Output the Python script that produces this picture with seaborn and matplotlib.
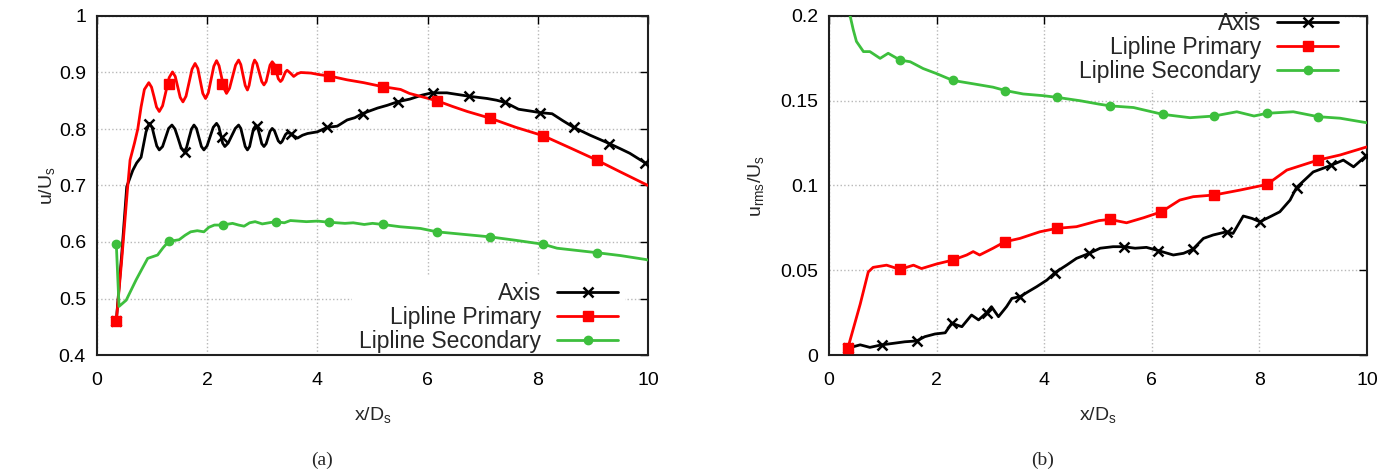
import numpy as np
import seaborn as sns
import matplotlib
matplotlib.use("Agg")
import matplotlib.pyplot as plt
from matplotlib.lines import Line2D
from matplotlib.ticker import FormatStrFormatter, MultipleLocator

# ---------------- panel (a): mean velocity ----------------
a_axis_x = [0.35, 0.45, 0.54, 0.65, 0.72, 0.80, 0.85, 0.89, 0.95,
            1.00, 1.04, 1.085, 1.13, 1.19, 1.245, 1.30, 1.36, 1.415, 1.47, 1.525, 1.58,
            1.625, 1.67, 1.715, 1.76, 1.805, 1.85, 1.895, 1.94, 1.997, 2.055, 2.11, 2.17,
            2.21, 2.245, 2.28, 2.32, 2.38, 2.445, 2.51, 2.57, 2.61, 2.65, 2.69, 2.73,
            2.77, 2.805, 2.84, 2.88, 2.92, 2.955, 2.99, 3.03, 3.07, 3.105, 3.14, 3.18,
            3.22, 3.255, 3.29, 3.33, 3.36, 3.39, 3.42, 3.45, 3.50, 3.57, 3.64, 3.73,
            3.82, 4.00, 4.18, 4.36, 4.54, 4.68, 4.81, 5.09, 5.27, 5.45, 5.68, 5.90,
            6.08, 6.35, 6.55, 6.75, 7.08, 7.25, 7.41, 7.65, 7.85, 8.04, 8.26, 8.45,
            8.65, 8.95, 9.28, 9.50, 9.67, 9.85, 10.0]
a_axis_y = [0.46, 0.58, 0.698, 0.727, 0.740, 0.750, 0.775, 0.795, 0.810,
            0.803, 0.787, 0.770, 0.763, 0.769, 0.785, 0.801, 0.807, 0.800, 0.784, 0.767, 0.760,
            0.767, 0.784, 0.800, 0.807, 0.801, 0.785, 0.769, 0.763, 0.770, 0.787, 0.803, 0.810,
            0.804, 0.790, 0.775, 0.769, 0.775, 0.788, 0.801, 0.807, 0.801, 0.785, 0.769, 0.763,
            0.769, 0.785, 0.800, 0.806, 0.801, 0.788, 0.774, 0.769, 0.774, 0.785, 0.796, 0.801,
            0.797, 0.788, 0.779, 0.775, 0.778, 0.784, 0.790, 0.793, 0.793, 0.788, 0.784, 0.789,
            0.792, 0.795, 0.803, 0.805, 0.816, 0.820, 0.827, 0.837, 0.842, 0.848, 0.853, 0.860,
            0.864, 0.864, 0.861, 0.858, 0.854, 0.851, 0.847, 0.835, 0.832, 0.829, 0.827, 0.815,
            0.803, 0.789, 0.775, 0.765, 0.757, 0.746, 0.737]

a_prim_x = [0.35, 0.45, 0.55, 0.60, 0.68, 0.74, 0.80, 0.86, 0.94,
            0.99, 1.035, 1.08, 1.13, 1.19, 1.25, 1.31, 1.37, 1.42, 1.465, 1.51, 1.56,
            1.615, 1.67, 1.725, 1.78, 1.83, 1.875, 1.92, 1.97, 2.02, 2.07, 2.12, 2.17,
            2.215, 2.26, 2.305, 2.35, 2.405, 2.46, 2.515, 2.57, 2.61, 2.65, 2.69, 2.73,
            2.76, 2.795, 2.83, 2.86, 2.90, 2.945, 2.99, 3.03, 3.07, 3.105, 3.14, 3.18,
            3.22, 3.255, 3.29, 3.33, 3.36, 3.39, 3.42, 3.45, 3.51, 3.57, 3.64, 3.70,
            3.88, 4.05, 4.21, 4.54, 4.84, 5.18, 5.38, 5.51, 5.67, 5.90, 6.17, 6.45,
            6.72, 7.14, 7.60, 8.10, 8.60, 9.07, 9.50, 10.0]
a_prim_y = [0.46, 0.57, 0.69, 0.745, 0.775, 0.800, 0.839, 0.870, 0.882,
            0.874, 0.857, 0.839, 0.831, 0.841, 0.866, 0.891, 0.901, 0.893, 0.8745, 0.856, 0.848,
            0.858, 0.882, 0.906, 0.916, 0.907, 0.885, 0.863, 0.854, 0.864, 0.8875, 0.911, 0.921,
            0.912, 0.892, 0.872, 0.863, 0.872, 0.8925, 0.913, 0.922, 0.914, 0.8955, 0.877, 0.869,
            0.877, 0.8955, 0.914, 0.922, 0.916, 0.900, 0.884, 0.878, 0.884, 0.8985, 0.913, 0.919,
            0.914, 0.9015, 0.889, 0.884, 0.887, 0.894, 0.901, 0.904, 0.899, 0.893, 0.898, 0.900,
            0.899, 0.896, 0.894, 0.887, 0.882, 0.875, 0.872, 0.870, 0.863, 0.857, 0.850, 0.840,
            0.831, 0.819, 0.803, 0.788, 0.766, 0.745, 0.724, 0.700]

a_sec_x = [0.35, 0.40, 0.53, 0.62, 0.71, 0.82, 0.92, 1.10, 1.20, 1.30, 1.49, 1.60,
           1.70, 1.82, 1.94, 2.03, 2.13, 2.28, 2.46, 2.57, 2.67, 2.77, 2.87, 3.00,
           3.24, 3.40, 3.51, 3.80, 4.00, 4.21, 4.50, 4.65, 4.85, 5.00, 5.19, 5.50,
           5.87, 6.17, 6.60, 7.14, 7.60, 8.10, 8.35, 9.08, 9.50, 9.96, 10.0]
a_sec_y = [0.597, 0.486, 0.497, 0.515, 0.533, 0.553, 0.571, 0.577, 0.590, 0.601, 0.604, 0.612,
           0.618, 0.620, 0.618, 0.626, 0.630, 0.630, 0.633, 0.630, 0.628, 0.634, 0.636, 0.632,
           0.636, 0.634, 0.638, 0.636, 0.637, 0.635, 0.633, 0.634, 0.631, 0.633, 0.631, 0.627,
           0.624, 0.618, 0.614, 0.609, 0.603, 0.596, 0.589, 0.581, 0.576, 0.569, 0.568]

# marker positions (a)
a_axis_mx = [0.35, 0.95, 1.60, 2.27, 2.90, 3.52, 4.18, 4.82, 5.47, 6.10, 6.75, 7.40, 8.04, 8.66, 9.30, 9.95]
a_axis_my = [0.46, 0.808, 0.760, 0.785, 0.805, 0.792, 0.803, 0.827, 0.847, 0.864, 0.858, 0.847, 0.829, 0.803, 0.774, 0.740]
a_prim_mx = [0.35, 1.30, 2.27, 3.24, 4.21, 5.19, 6.17, 7.14, 8.10, 9.08]
a_prim_my = [0.46, 0.880, 0.880, 0.906, 0.893, 0.875, 0.850, 0.819, 0.788, 0.745]
a_sec_mx = [0.35, 1.30, 2.28, 3.24, 4.21, 5.19, 6.17, 7.14, 8.10, 9.08]
a_sec_my = [0.597, 0.601, 0.630, 0.636, 0.635, 0.631, 0.618, 0.609, 0.596, 0.581]

# ---------------- panel (b): rms velocity ----------------
b_axis_x = [0.35, 0.58, 0.76, 0.98, 1.20, 1.41, 1.63, 1.78, 1.97, 2.16, 2.28, 2.47, 2.65,
            2.78, 2.93, 3.02, 3.15, 3.30, 3.40, 3.55, 3.70, 3.86, 4.05, 4.20, 4.42, 4.60,
            4.84, 5.04, 5.28, 5.48, 5.69, 5.90, 6.12, 6.40, 6.59, 6.76, 6.96, 7.14, 7.39,
            7.51, 7.70, 7.86, 8.01, 8.20, 8.38, 8.57, 8.69, 9.00, 9.34, 9.56, 9.75, 9.98, 10.0]
b_axis_y = [0.004, 0.006, 0.0045, 0.006, 0.0069, 0.0078, 0.0083, 0.0108, 0.0124, 0.0131, 0.0187, 0.0167, 0.0236,
            0.0207, 0.025, 0.0285, 0.0226, 0.0285, 0.0334, 0.0344, 0.0373, 0.0403, 0.0442, 0.0486, 0.0531, 0.057,
            0.0600, 0.063, 0.0639, 0.0639, 0.063, 0.0635, 0.0616, 0.059, 0.060, 0.0623, 0.0688, 0.0708, 0.0727,
            0.0717, 0.082, 0.0806, 0.0786, 0.0816, 0.0845, 0.0914, 0.0988, 0.108, 0.112, 0.115, 0.111, 0.1174, 0.118]

b_prim_x = [0.35, 0.58, 0.73, 0.82, 1.07, 1.32, 1.57, 1.72, 2.00, 2.30, 2.56, 2.68, 2.80,
            3.05, 3.27, 3.55, 3.92, 4.23, 4.60, 5.02, 5.22, 5.53, 5.85, 6.18, 6.52, 6.77,
            7.16, 7.64, 8.14, 8.51, 9.09, 9.50, 10.0]
b_prim_y = [0.004, 0.030, 0.049, 0.0517, 0.053, 0.0505, 0.053, 0.051, 0.0537, 0.056, 0.059, 0.061, 0.059,
            0.063, 0.0668, 0.0688, 0.0727, 0.0747, 0.0757, 0.0793, 0.080, 0.078, 0.081, 0.0845, 0.0914, 0.0934,
            0.0944, 0.0973, 0.1006, 0.1091, 0.115, 0.118, 0.1228]

b_sec_x = [0.35, 0.45, 0.51, 0.64, 0.76, 0.95, 1.10, 1.32, 1.51, 1.75, 2.00, 2.30, 2.68,
           3.05, 3.28, 3.61, 3.98, 4.24, 4.67, 5.02, 5.22, 5.66, 6.20, 6.71, 7.16, 7.58,
           7.90, 8.14, 8.63, 9.09, 9.50, 10.0]
b_sec_y = [0.206, 0.192, 0.185, 0.179, 0.179, 0.175, 0.178, 0.174, 0.173, 0.169, 0.166, 0.162, 0.160,
           0.158, 0.156, 0.154, 0.153, 0.152, 0.150, 0.148, 0.147, 0.146, 0.142, 0.140, 0.141, 0.1435,
           0.141, 0.1426, 0.1435, 0.1406, 0.1397, 0.137]

b_axis_mx = [0.35, 0.98, 1.63, 2.28, 2.93, 3.55, 4.20, 4.84, 5.48, 6.12, 6.76, 7.39, 8.01, 8.69, 9.34, 9.98]
b_axis_my = [0.004, 0.006, 0.0083, 0.0187, 0.025, 0.0344, 0.0486, 0.0600, 0.0639, 0.0616, 0.0623, 0.0727, 0.0786, 0.0988, 0.112, 0.1174]
b_prim_mx = [0.35, 1.32, 2.30, 3.27, 4.23, 5.22, 6.18, 7.16, 8.14, 9.09]
b_prim_my = [0.004, 0.0505, 0.056, 0.0668, 0.0747, 0.080, 0.0845, 0.0944, 0.1006, 0.115]
b_sec_mx = [1.32, 2.30, 3.28, 4.24, 5.22, 6.20, 7.16, 8.14, 9.09]
b_sec_my = [0.174, 0.162, 0.156, 0.152, 0.147, 0.142, 0.141, 0.1426, 0.1406]

labels = ["Axis", "Lipline Primary", "Lipline Secondary"]
colors = ["black", "#ff0000", "#3dbf3d"]
markers = ["x", "s", "o"]
msizes = [7.5, 6.5, 6]
mews = [1.8, 1, 1]

sns.set_theme(style="white")
plt.rcParams['font.family'] = ['Liberation Sans', 'DejaVu Sans']
plt.rcParams['mathtext.default'] = 'regular'

fig = plt.figure(figsize=(13.83, 4.74), dpi=100)
ax_a = fig.add_axes([97 / 1383, 119 / 474, 551 / 1383, 339 / 474])
ax_b = fig.add_axes([829 / 1383, 119 / 474, 538 / 1383, 339 / 474])


def draw_panel(ax, curves, marks):
    for (cx, cy), (mx, my), c, m, ms, mw in zip(curves, marks, colors, markers, msizes, mews):
        sns.lineplot(x=cx, y=cy, ax=ax, color=c, lw=2, sort=False, estimator=None, zorder=3)
        ax.plot(mx, my, ls='none', marker=m, color=c, ms=ms, mew=mw, zorder=4)


draw_panel(ax_a,
           [(a_axis_x, a_axis_y), (a_prim_x, a_prim_y), (a_sec_x, a_sec_y)],
           [(a_axis_mx, a_axis_my), (a_prim_mx, a_prim_my), (a_sec_mx, a_sec_my)])
draw_panel(ax_b,
           [(b_axis_x, b_axis_y), (b_prim_x, b_prim_y), (b_sec_x, b_sec_y)],
           [(b_axis_mx, b_axis_my), (b_prim_mx, b_prim_my), (b_sec_mx, b_sec_my)])

ax_a.set_xlim(0, 10)
ax_a.set_ylim(0.4, 1.0)
ax_a.yaxis.set_major_locator(MultipleLocator(0.1))
ax_b.set_xlim(0, 10)
ax_b.set_ylim(0, 0.2)
ax_b.yaxis.set_major_locator(MultipleLocator(0.05))

handles = [Line2D([], [], color=c, lw=2, marker=m, ms=ms, mew=mw)
           for c, m, ms, mw in zip(colors, markers, msizes, mews)]

for ax in (ax_a, ax_b):
    ax.xaxis.set_major_locator(MultipleLocator(2))
    ax.xaxis.set_major_formatter(FormatStrFormatter('%g'))
    ax.yaxis.set_major_formatter(FormatStrFormatter('%g'))
    ax.tick_params(direction='in', top=True, right=True, length=6, width=1,
                   labelsize=14, pad=8, colors='black')
    ax.tick_params(axis='x', pad=12)
    ax.grid(True, color='#b8b8b8', ls=':', lw=1)
    ax.set_axisbelow(True)
    for s in ax.spines.values():
        s.set_color('#202020')
        s.set_linewidth(1.5)
    ax.set_xlabel('x/D$_s$', fontsize=14, labelpad=12)

ax_a.set_ylabel('u/U$_s$', fontsize=14, labelpad=1)
ax_b.set_ylabel('u$_{rms}$/U$_s$', fontsize=14, labelpad=10)

leg_kw = dict(markerfirst=False, handlelength=2.65, handletextpad=0.7, fontsize=16.5,
              labelspacing=0.03, borderaxespad=0, borderpad=0.3, frameon=True,
              fancybox=False, framealpha=1, facecolor='white', edgecolor='none')
leg_a = ax_a.legend(handles, labels, loc='lower right', bbox_to_anchor=(0.958, -0.014), **leg_kw)
leg_a.set_zorder(1.5)
leg_b = ax_b.legend(handles, labels, loc='upper right', bbox_to_anchor=(0.959, 1.031), **leg_kw)
leg_b.set_zorder(1.5)

fig.text(322 / 1383, 1 - 460 / 474, '(a)', ha='center', va='center', fontsize=14,
         family=['Liberation Serif', 'DejaVu Serif'])
fig.text(1043 / 1383, 1 - 460 / 474, '(b)', ha='center', va='center', fontsize=14,
         family=['Liberation Serif', 'DejaVu Serif'])

fig.savefig('out.png', dpi=100)
